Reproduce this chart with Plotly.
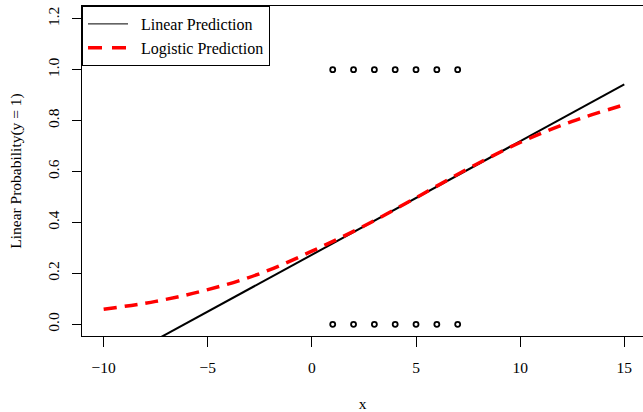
import plotly.graph_objects as go

# Observed points (open circles)
obs_x = [1, 2, 3, 4, 5, 6, 7, 1, 2, 3, 4, 5, 6, 7]
obs_y = [0, 0, 0, 0, 0, 0, 0, 1, 1, 1, 1, 1, 1, 1]

# Linear prediction (straight line, read at ends)
lin_x = [-10.0, 15.0]
lin_y = [-0.173, 0.942]

# Logistic prediction
log_x = [-10, -7.5, -5, -2.5, 0, 2.5, 5, 7.5, 10, 12.5, 15]
log_y = [0.059, 0.090, 0.136, 0.199, 0.287, 0.386, 0.497, 0.611, 0.714, 0.797, 0.862]

x_ticks = [-10, -5, 0, 5, 10, 15]
y_ticks = [0.0, 0.2, 0.4, 0.6, 0.8, 1.0, 1.2]

FONT = "Liberation Serif"
NB = "\u00a0\u00a0"

fig = go.Figure()
fig.add_trace(go.Scatter(x=lin_x, y=lin_y, mode="lines",
                         line=dict(color="black", width=2), showlegend=False))
fig.add_trace(go.Scatter(x=log_x, y=log_y, mode="lines",
                         line=dict(color="#ff0000", width=3.5, dash="13px,8px", shape="spline"),
                         showlegend=False))
fig.add_trace(go.Scatter(x=obs_x, y=obs_y, mode="markers",
                         marker=dict(symbol="circle-open", size=5, color="black",
                                     line=dict(width=1.8, color="black")),
                         showlegend=False))
# legend entries
fig.add_trace(go.Scatter(x=[None], y=[None], mode="lines", name=NB + "Linear Prediction",
                         line=dict(color="black", width=1)))
fig.add_trace(go.Scatter(x=[None], y=[None], mode="lines", name=NB + "Logistic Prediction",
                         line=dict(color="#ff0000", width=3.5, dash="14px,10px")))

fig.update_layout(
    width=643, height=412,
    margin=dict(l=82, r=0, t=6, b=76, autoexpand=False),
    paper_bgcolor="white", plot_bgcolor="white",
    font=dict(family=FONT, size=15.5, color="black"),
    legend=dict(x=0, y=1, xanchor="left", yanchor="top",
                bordercolor="black", borderwidth=1, bgcolor="white",
                font=dict(family=FONT, size=16),
                itemwidth=40, tracegroupgap=0),
    xaxis=dict(range=[-11.04, 15.9], tickvals=x_ticks, ticks="outside", ticklen=10,
               ticklabelstandoff=7,
               tickcolor="black", showgrid=False, zeroline=False, automargin=False,
               showline=True, linecolor="black", linewidth=1, mirror=True,
               title=dict(text="x", standoff=25, font=dict(size=15.5))),
    yaxis=dict(range=[-0.046, 1.25], tickvals=y_ticks, tickformat=".1f", tickangle=-90,
               ticks="outside", ticklen=9, ticklabelstandoff=7,
               tickcolor="black", showgrid=False, automargin=False,
               zeroline=False, showline=True, linecolor="black", linewidth=1,
               title=dict(text="Linear Probability(y = 1)", standoff=19, font=dict(size=15.5))),
    hovermode=False,
)

fig.write_html("out.html", config={"displayModeBar": False},
               post_script="document.body.style.margin='0';")
